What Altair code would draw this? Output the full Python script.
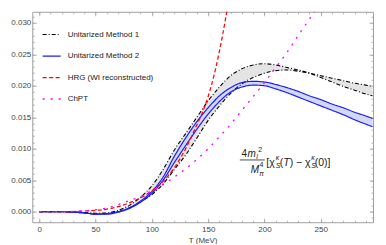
import altair as alt
import pandas as pd

# ---------------- data ----------------
T_GRID = [0, 10, 20, 30, 40, 50, 60, 70, 80, 90, 100, 110, 120, 130, 140, 150,
          160, 170, 180, 190, 200, 210, 220, 230, 240, 250, 260, 270, 280, 290, 296]

# Unitarized Method 1 (two dot-dashed black curves, grey band between)
M1_A = [0, 0, 0, -0.00005, -0.00015, -0.00025, -0.0002, 0.0002, 0.0010, 0.0023,
        0.0041, 0.0067, 0.0098, 0.0124, 0.0150, 0.0176, 0.0198, 0.0216, 0.0227,
        0.0233, 0.0235, 0.0233, 0.0229, 0.0225, 0.0220, 0.0213, 0.0206, 0.0199,
        0.0193, 0.0187, 0.0184]
M1_B = [0, 0, 0, -0.00005, -0.0002, -0.0003, -0.0003, 0.0000, 0.0006, 0.0016,
        0.0027, 0.0044, 0.0067, 0.0090, 0.0117, 0.0145, 0.0168, 0.0188, 0.0203,
        0.0213, 0.0220, 0.0224, 0.0225, 0.0223, 0.0220, 0.0216, 0.0212, 0.0208,
        0.0204, 0.0201, 0.0199]

# Unitarized Method 2 (two solid blue curves, light blue band between)
M2_A = [0, 0, 0, -0.0001, -0.0002, -0.0004, -0.0003, 0.0000, 0.0006, 0.0017,
        0.0032, 0.0055, 0.0088, 0.0117, 0.0143, 0.0165, 0.0184, 0.0197, 0.0205,
        0.0207, 0.0206, 0.0202, 0.0197, 0.0191, 0.0184, 0.0178, 0.0171, 0.0165,
        0.0158, 0.0152, 0.0148]
M2_B = [0, 0, 0, -0.0001, -0.0002, -0.0004, -0.0004, -0.0001, 0.0005, 0.0015,
        0.0029, 0.0050, 0.0078, 0.0105, 0.0131, 0.0155, 0.0175, 0.0190, 0.0198,
        0.0201, 0.0200, 0.0195, 0.0189, 0.0182, 0.0175, 0.0168, 0.0161, 0.0154,
        0.0146, 0.0139, 0.0135]

# HRG (WI reconstructed)
HRG_T = [0, 10, 20, 30, 40, 50, 60, 70, 80, 90, 100, 110, 120, 130, 140, 145,
         150, 155, 160, 165, 170]
HRG_V = [0, 0, 0, 0.00002, 0.0001, 0.0002, 0.0004, 0.0008, 0.0014, 0.0022,
         0.0033, 0.0048, 0.0070, 0.0100, 0.0138, 0.0158, 0.0183, 0.0215, 0.0255,
         0.0302, 0.0356]

# ChPT
CHPT_T = [0, 10, 20, 30, 40, 50, 60, 70, 80, 90, 100, 110, 120, 130, 140, 150,
          160, 170, 180, 190, 200, 210, 220, 230, 240, 250]
CHPT_V = [0, 0, 0.00001, 0.00004, 0.00013, 0.0003, 0.00058, 0.0011, 0.00175,
          0.0024, 0.0033, 0.0043, 0.0055, 0.0068, 0.0083, 0.0100, 0.0119, 0.0139,
          0.0161, 0.0183, 0.0205, 0.0229, 0.0253, 0.0280, 0.0306, 0.0333]

NAMES = ["Unitarized Method 1", "Unitarized Method 2", "HRG (WI reconstructed)", "ChPT"]
X_MAJOR = [0, 50, 100, 150, 200, 250]
Y_MAJOR = [0.0, 0.005, 0.010, 0.015, 0.020, 0.025, 0.030]
X_MINOR = list(range(0, 300, 10))
Y_MINOR = [round(-0.001 + 0.001 * i, 3) for i in range(33)]

# ---------------- styling ----------------
COLORS = ["#000000", "#1a1aff", "#ff0000", "#ff00ff"]
DASHES = [[4, 2, 1, 2], [1, 0], [4, 2.5], [2, 6]]
WIDTHS = [1.1, 1.3, 1.2, 2.4]
FRAME = "#a0a0a0"
TXT = "#444444"
FONT = "Liberation Sans"

bands = pd.DataFrame({"T": T_GRID, "m1a": M1_A, "m1b": M1_B, "m2a": M2_A, "m2b": M2_B})
one = pd.DataFrame({"k": [0]})

rows = []
for key, name, vals in [("m1a", NAMES[0], M1_A), ("m1b", NAMES[0], M1_B),
                        ("m2a", NAMES[1], M2_A), ("m2b", NAMES[1], M2_B)]:
    for t, v in zip(T_GRID, vals):
        rows.append((name, key, t, v))
for t, v in zip(HRG_T, HRG_V):
    rows.append((NAMES[2], "hrg", t, v))
for t, v in zip(CHPT_T, CHPT_V):
    rows.append((NAMES[3], "chpt", t, v))
lines_df = pd.DataFrame(rows, columns=["series", "line", "T", "value"])

xs = alt.Scale(domain=[-6.2, 296.4], nice=False, zero=False)
ys = alt.Scale(domain=[-0.00168, 0.03175], nice=False, zero=False)


def ax(orient, values, size, labels=False, **kw):
    return alt.Axis(orient=orient, values=values, tickSize=size, offset=-size,
                    domain=False, grid=False, labels=labels, ticks=True,
                    tickColor=FRAME, tickWidth=0.8, labelFont=FONT,
                    labelFontSize=8, labelColor=TXT, **kw)


ax_bottom = ax("bottom", X_MAJOR, 4, labels=True, labelPadding=3, title="T (MeV)",
               titleFont=FONT, titleFontSize=8, titleFontWeight="normal",
               titleColor=TXT, titlePadding=3)
ax_left = ax("left", Y_MAJOR, 4, labels=True, format=".3f", labelPadding=1.5, title=None)
ax_bottom_minor = ax("bottom", X_MINOR, 2, title=None)
ax_left_minor = ax("left", Y_MINOR, 2, title=None)
ax_top = ax("top", X_MAJOR, 4, title=None)
ax_right = ax("right", Y_MAJOR, 4, title=None)
ax_top_minor = ax("top", X_MINOR, 2, title=None)
ax_right_minor = ax("right", Y_MINOR, 2, title=None)

band1 = alt.Chart(bands).mark_area(color="#e4e4e4", interpolate="monotone").encode(
    x=alt.X("T:Q", scale=xs, axis=ax_bottom),
    y=alt.Y("m1a:Q", scale=ys, axis=ax_left),
    y2="m1b:Q",
)
band2 = alt.Chart(bands).mark_area(color="#d2d9f8", interpolate="monotone").encode(
    x=alt.X("T:Q", scale=xs, axis=ax_bottom_minor),
    y=alt.Y("m2a:Q", scale=ys, axis=ax_left_minor),
    y2="m2b:Q",
)

leg = alt.Legend(orient="none", legendX=9.4, legendY=12.8, symbolType="stroke",
                 symbolSize=324, labelFont=FONT, labelFontSize=8, labelColor="#222222",
                 labelOffset=6, rowPadding=7.5, padding=0)

lines = alt.Chart(lines_df).mark_line(clip=True, interpolate="monotone").encode(
    x=alt.X("T:Q", scale=xs, axis=ax_top),
    y=alt.Y("value:Q", scale=ys, axis=ax_right),
    color=alt.Color("series:N", title=None, scale=alt.Scale(domain=NAMES, range=COLORS), legend=leg),
    strokeDash=alt.StrokeDash("series:N", title=None, scale=alt.Scale(domain=NAMES, range=DASHES), legend=leg),
    strokeWidth=alt.StrokeWidth("series:N", title=None, scale=alt.Scale(domain=NAMES, range=WIDTHS), legend=leg),
    detail="line:N",
)

# formula annotation  4 m_l^2 / M_pi^4 [chi_S^k(T) - chi_S^k(0)]
frac = alt.Chart(one).mark_rule(color="#222222", strokeWidth=0.8).encode(
    x=alt.X(datum=178.1, type="quantitative", scale=xs, axis=ax_top_minor),
    x2=alt.datum(200.3),
    y=alt.Y(datum=0.00821, type="quantitative", scale=ys, axis=ax_right_minor),
)

pieces = [
    ("4", 179.6, 0.00873, 10, "normal"),
    ("m", 184.9, 0.00873, 10, "italic"),
    ("l", 192.6, 0.00835, 7, "italic"),
    ("2", 194.5, 0.00950, 7, "normal"),
    ("M", 187.9, 0.00610, 10, "italic"),
    ("π", 195.4, 0.00559, 7, "italic"),
    ("4", 195.6, 0.00712, 7, "normal"),
    ("[χ", 201.6, 0.00726, 10.5, "normal"),
    ("κ", 210.0, 0.00813, 7, "italic"),
    ("S", 210.0, 0.00686, 7, "italic"),
    ("(", 213.6, 0.00726, 10.5, "normal"),
    ("T", 216.7, 0.00726, 10.5, "italic"),
    (") − χ", 222.4, 0.00726, 10.5, "normal"),
    ("κ", 241.5, 0.00813, 7, "italic"),
    ("S", 241.5, 0.00686, 7, "italic"),
    ("(0)]", 244.7, 0.00726, 10.5, "normal"),
]
texts = []
for s, tx, ty, fs, st in pieces:
    texts.append(
        alt.Chart(one).mark_text(text=s, align="left", baseline="alphabetic",
                                 font=FONT, fontSize=fs, fontStyle=st,
                                 color="#222222").encode(
            x=alt.X(datum=tx, type="quantitative", scale=xs, axis=None),
            y=alt.Y(datum=ty, type="quantitative", scale=ys, axis=None),
        )
    )

chart = alt.layer(band1, band2, lines, frac, *texts).resolve_axis(
    x="independent", y="independent"
).properties(
    width=341, height=210.6,
    autosize=alt.AutoSizeParams(type="none"),
    padding={"left": 24.3, "top": 3.7, "right": 5, "bottom": 22},
).configure_view(stroke=FRAME, strokeWidth=1)

chart.save("out.html", embed_options={"renderer": "svg", "actions": False})
